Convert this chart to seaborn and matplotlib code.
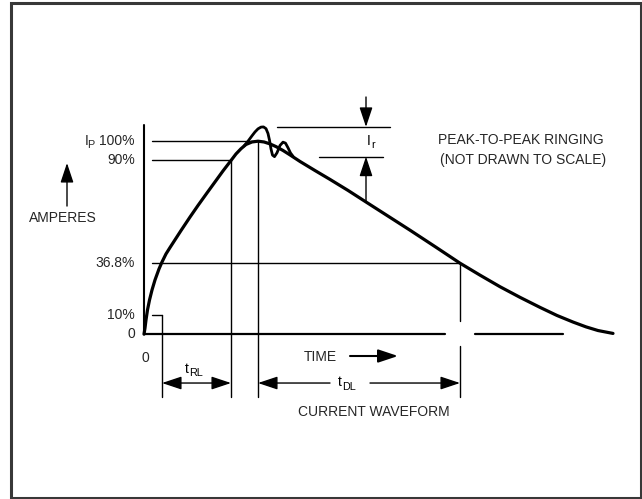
import matplotlib
matplotlib.use("Agg")
import matplotlib.pyplot as plt
import seaborn as sns
import pandas as pd
from matplotlib.patches import Rectangle

# Current waveform (time in arbitrary units, current in % of peak)
wave_t = [0, 1, 2, 3.5, 5.5, 8, 11, 15, 18, 22, 26, 29, 37, 46, 54, 63, 71, 79, 87,
          92, 97, 102, 108, 114, 120, 126, 132, 139, 146, 156, 171, 186, 204, 222,
          244, 266, 291, 316, 336, 356, 376, 396, 413, 429, 442, 454, 469]
wave_i = [0, 3.2, 7.4, 12.6, 17.7, 22.9, 28.1, 33.8, 37.4, 41.6, 44.9, 47.3, 53.7,
          60.7, 66.7, 73.2, 78.9, 84.6, 90.0, 93.4, 96.1, 98.3, 99.6, 100.0, 99.6,
          98.6, 97.2, 95.2, 92.9, 89.5, 84.8, 80.2, 74.5, 68.5, 61.2, 53.9, 45.4,
          36.8, 30.6, 24.6, 19.1, 13.9, 9.7, 6.3, 3.8, 1.9, 0.4]

# Peak-to-peak ringing superimposed on the crest
ring_t = [100, 104, 108, 111, 114, 117, 119.5, 122, 124, 125.5, 127, 128.5, 130.5,
          133, 136, 139, 141.5, 144, 146.5, 149]
ring_i = [97.5, 100.0, 102.8, 104.8, 106.4, 107.3, 107.4, 106.5, 104.0, 100.5, 96.0,
          92.8, 92.0, 94.0, 97.8, 99.5, 99.0, 96.6, 93.9, 92.2]

# Reference levels
level_values = [100, 90, 36.8, 10]
level_start = [8, 8, 8, 8]
level_end = [114, 87, 316, 18]

# Time markers
t_10 = 18      # 10 % point
t_90 = 87      # 90 % point
t_peak = 114   # peak
t_368 = 316    # decay to 36.8 %
t_ring = 222   # ringing measurement position
ring_hi = 107.4
ring_lo = 92.0

sns.set_theme(style="white")
plt.rcParams["font.family"] = ["Liberation Sans", "DejaVu Sans"]

fig = plt.figure(figsize=(6.42, 4.99), dpi=100)
ax = fig.add_axes([0, 0, 1, 1])

ink = "black"
thin = 1.0
fs = 10
fs_sub = 7.8


def sub_label(x, y, main, sub, ha="center", va="center"):
    """Text with a subscript following it; returns the main text artist."""
    t = ax.text(x, y, main, ha=ha, va=va, fontsize=fs, color=ink)
    ax.annotate(sub, xy=(1, 0), xycoords=t, xytext=(0.3, -1.5),
                textcoords="offset points", ha="left", va="bottom",
                fontsize=fs_sub, color=ink)
    return t


# frame around the diagram
fig.patches.append(Rectangle((0.0164, 0.002), 0.9813, 0.992, transform=fig.transFigure,
                             fill=False, edgecolor="#383838", linewidth=2.2))

# axes of the diagram
ax.plot([0, 0], [0, 108.4], color=ink, lw=1.5)
ax.plot([0, 301], [0, 0], color=ink, lw=1.6)
ax.plot([331, 419], [0, 0], color=ink, lw=1.6)

# level lines and labels
for v, s, e in zip(level_values, level_start, level_end):
    ax.plot([s, e], [v, v], color=ink, lw=thin)
p100 = ax.text(-9, 100, "100%", ha="right", va="center", fontsize=fs)
p_sub = ax.annotate("P", xy=(0, 0), xycoords=p100, xytext=(-3.5, -1.5),
                    textcoords="offset points", ha="right", va="bottom", fontsize=fs_sub)
ax.annotate("I", xy=(0, 0.5), xycoords=(p_sub, p100), xytext=(0.9, 0),
            textcoords="offset points", ha="right", va="center", fontsize=fs)
ax.text(-9, 90, "90%", ha="right", va="center", fontsize=fs)
ax.text(-9, 36.8, "36.8%", ha="right", va="center", fontsize=fs)
ax.text(-9, 10, "10%", ha="right", va="center", fontsize=fs)
ax.text(-9, 0, "0", ha="right", va="center", fontsize=fs)
ax.text(1, -12.3, "0", ha="center", va="center", fontsize=fs)

# vertical markers
ax.plot([t_10, t_10], [10, -32.5], color=ink, lw=thin)
ax.plot([t_90, t_90], [90, -32.5], color=ink, lw=thin)
ax.plot([t_peak, t_peak], [100, -32.5], color=ink, lw=thin)
ax.plot([t_368, t_368], [36.8, 6.8], color=ink, lw=thin)
ax.plot([t_368, t_368], [-6.1, -32.5], color=ink, lw=thin)

# waveform and ringing
df_wave = pd.DataFrame({"t": wave_t, "i": wave_i})
df_ring = pd.DataFrame({"t": ring_t, "i": ring_i})
sns.lineplot(data=df_wave, x="t", y="i", sort=False, estimator=None, color=ink,
             lw=2.3, ax=ax, solid_joinstyle="round", solid_capstyle="round")
sns.lineplot(data=df_ring, x="t", y="i", sort=False, estimator=None, color=ink,
             lw=2.0, ax=ax, solid_joinstyle="round", solid_capstyle="round")
ax.set_xlim(-144, 498)
ax.set_ylim(-85.39, 173.16)
ax.axis("off")

head = "-|>,head_length=0.6,head_width=0.2"
arrow = dict(arrowstyle=head, color=ink, lw=thin, mutation_scale=20,
             shrinkA=0, shrinkB=0)
darrow = dict(arrowstyle="<|-|>,head_length=0.6,head_width=0.2", color=ink, lw=thin,
              mutation_scale=20, shrinkA=0, shrinkB=0)

# ringing amplitude I_r
ax.plot([133, 246], [ring_hi, ring_hi], color=ink, lw=thin)
ax.plot([175, 239], [ring_lo, ring_lo], color=ink, lw=thin)
ax.annotate("", xy=(t_ring, ring_hi), xytext=(t_ring, 122.9), arrowprops=arrow)
ax.annotate("", xy=(t_ring, ring_lo), xytext=(t_ring, 68.5), arrowprops=arrow)
sub_label(t_ring + 0.5, 100.2, "I", "r", ha="left")

ax.text(294, 100.6, "PEAK-TO-PEAK RINGING", ha="left", va="center", fontsize=fs)
ax.text(296, 90.2, "(NOT DRAWN TO SCALE)", ha="left", va="center", fontsize=fs)

# AMPERES
ax.annotate("", xy=(-77, 88.7), xytext=(-77, 66.4), arrowprops=arrow)
ax.text(-81, 60.2, "AMPERES", ha="center", va="center", fontsize=fs)

# TIME
ax.text(176, -11.8, "TIME", ha="center", va="center", fontsize=fs)
ax.annotate("", xy=(254, -11.3), xytext=(206, -11.3),
            arrowprops=dict(arrow, lw=1.5))

# rise time t_RL
ax.annotate("", xy=(t_90, -25.3), xytext=(t_10, -25.3), arrowprops=darrow)
sub_label(41, -17.8, "t", "RL", ha="left")

# decay time t_DL
ax.annotate("", xy=(t_peak, -25.3), xytext=(186, -25.3), arrowprops=arrow)
ax.annotate("", xy=(t_368, -25.3), xytext=(226, -25.3), arrowprops=arrow)
sub_label(194, -25.0, "t", "DL", ha="left")

ax.text(230, -40.3, "CURRENT WAVEFORM", ha="center", va="center", fontsize=fs)

fig.savefig("out.png", dpi=100, facecolor="white")
